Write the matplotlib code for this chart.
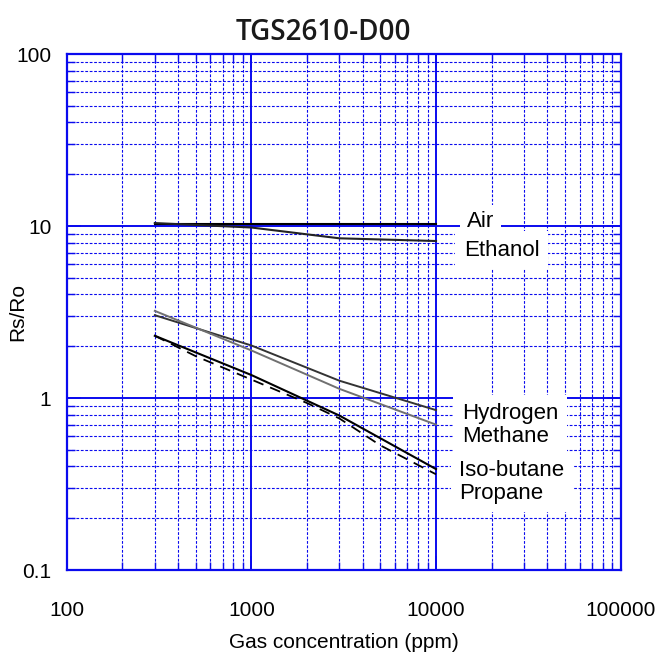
import matplotlib
matplotlib.use("Agg")
import matplotlib.pyplot as plt
from matplotlib.ticker import LogLocator, FixedLocator, NullFormatter

# ---- data ----
conc_air = [300, 10000]
rs_air = [10.3, 10.3]

conc_ethanol = [300, 1000, 3000, 10000]
rs_ethanol = [10.4, 9.8, 8.48, 8.18]

conc_hydrogen = [300, 1000, 3000, 10000]
rs_hydrogen = [3.03, 2.02, 1.26, 0.85]

conc_methane = [300, 1000, 3000, 10000]
rs_methane = [3.21, 1.89, 1.13, 0.70]

conc_isobutane = [300, 1000, 3000, 10000]
rs_isobutane = [2.30, 1.36, 0.79, 0.386]

conc_propane = [300, 500, 1000, 2000, 3000, 5000, 10000]
rs_propane = [2.30, 1.75, 1.28, 0.935, 0.76, 0.53, 0.36]

x_ticks = [100, 1000, 10000, 100000]
x_ticklabels = ["100", "1000", "10000", "100000"]
y_ticks = [0.1, 1, 10, 100]
y_ticklabels = ["0.1", "1", "10", "100"]

title = "TGS2610-D00"
xlabel = "Gas concentration (ppm)"
ylabel = "Rs/Ro"

# ---- figure ----
plt.rcParams['font.family'] = ['Liberation Sans', 'DejaVu Sans']
BLUE = "#0a0aee"

fig = plt.figure(figsize=(6.72, 6.59), dpi=100)
ax = fig.add_axes([66.7/672, 1-570/659, (620.7-66.7)/672, (570-54)/659])
ax.set_xscale('log')
ax.set_yscale('log')
ax.set_xlim(100, 100000)
ax.set_ylim(0.1, 100)

# grid
ax.xaxis.set_major_locator(FixedLocator(x_ticks))
ax.yaxis.set_major_locator(FixedLocator(y_ticks))
ax.xaxis.set_minor_locator(LogLocator(base=10, subs=range(2, 10)))
ax.yaxis.set_minor_locator(LogLocator(base=10, subs=range(2, 10)))
ax.xaxis.set_minor_formatter(NullFormatter())
ax.yaxis.set_minor_formatter(NullFormatter())
ax.set_xticklabels(x_ticklabels)
ax.set_yticklabels(y_ticklabels)

ax.grid(True, which='major', color=BLUE, lw=1.4, ls='-')
ax.grid(True, which='minor', color=BLUE, lw=0.8, ls=(0, (2.5, 1.5)))
ax.set_axisbelow(True)

for sp in ax.spines.values():
    sp.set_color(BLUE)
    sp.set_linewidth(1.6)

ax.tick_params(which='both', direction='in', colors=BLUE, top=True, right=True,
               labelcolor='black', labelsize=15)
ax.tick_params(which='major', length=10, width=1.4)
ax.tick_params(which='minor', length=6, width=1.0)
ax.tick_params(axis='x', which='major', pad=22)
ax.tick_params(axis='y', which='major', pad=11)

# curves
ax.plot(conc_air, rs_air, color='black', lw=1.5, zorder=4)
ax.plot(conc_ethanol, rs_ethanol, color='#222222', lw=1.5, zorder=4)
ax.plot(conc_hydrogen, rs_hydrogen, color='#333333', lw=1.4, zorder=4)
ax.plot(conc_methane, rs_methane, color='#707070', lw=1.4, zorder=4)
ax.plot(conc_isobutane, rs_isobutane, color='black', lw=1.5, zorder=4)
ax.plot(conc_propane, rs_propane, color='black', lw=1.3, ls=(0, (6, 4)), zorder=4)

# labels
tkw = dict(transform=ax.transAxes, fontsize=16, va='center', ha='left', zorder=5)
ax.text(0.722, 0.6745, "Air", bbox=dict(facecolor='white', edgecolor='none', pad=5), **tkw)
ax.text(0.717, 0.6195, "Ethanol", bbox=dict(facecolor='white', edgecolor='none', pad=6), **tkw)
ax.text(0.713, 0.2805, "Hydrogen\nMethane", linespacing=1.15,
        bbox=dict(facecolor='white', edgecolor='none', pad=6), **tkw)
ax.text(0.709, 0.1705, "Iso-butane\nPropane", linespacing=1.1,
        bbox=dict(facecolor='white', edgecolor='none', pad=6), **tkw)

ax.set_xlabel(xlabel, fontsize=15)
ax.xaxis.set_label_coords(0.5, (570-643)/516)
ax.xaxis.label.set_va('center')
ax.set_ylabel(ylabel, fontsize=15)
ax.yaxis.set_label_coords((18-66.7)/554, 0.5)
ax.yaxis.label.set_va('center')
fig.text((233+414)/2/672, 1-33/659, title, ha='center', va='center', fontsize=20,
         fontweight='semibold', family=['Open Sans', 'DejaVu Sans'], color='#1a1a1a')

fig.savefig("out.png", dpi=100)
